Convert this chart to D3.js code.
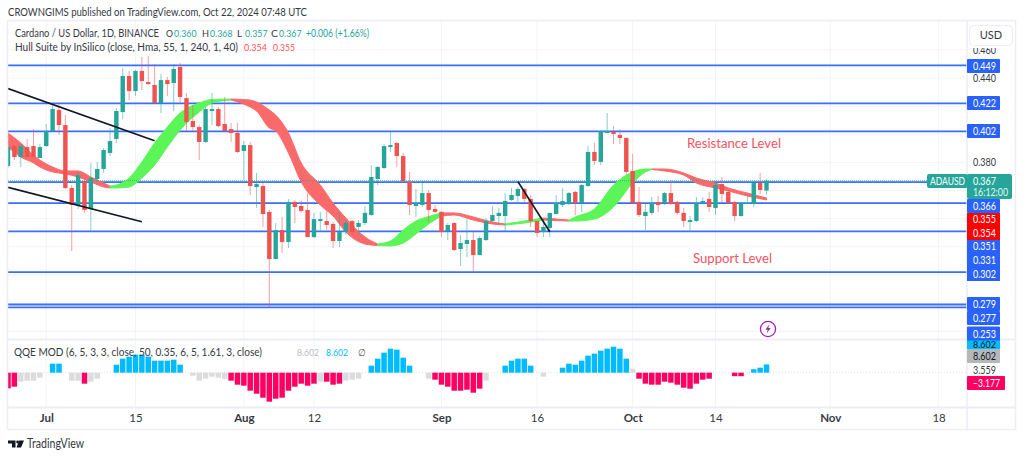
<!DOCTYPE html>
<html><head><meta charset="utf-8">
<script src="https://cdn.jsdelivr.net/npm/d3@7"></script>
<style>html,body{margin:0;padding:0;background:#fff}svg{display:block}text{font-family:Lato,sans-serif}</style>
</head><body><div id="c"></div>
<script>
const opens=[.3774,.3916,.3838,.3909,.3916,.3831,.3916,.4023,.4172,.4065,.3618,.3497,.3668,.3469,.3682,.3753,.3867,.3966,.4158,.4414,.4307,.4450,.4371,.4350,.4222,.4385,.4364,.4478,.4257,.4094,.4051,.3945,.4165,.4179,.4073,.4037,.4009,.3881,.3923,.3625,.3632,.3448,.3113,.3319,.3234,.3519,.3490,.3462,.3269,.3383,.3383,.3362,.3241,.3305,.3383,.3341,.3369,.3426,.3682,.3760,.3909,.3938,.3845,.3661,.3490,.3497,.3582,.3469,.3448,.3312,.3369,.3184,.3220,.3248,.3141,.3248,.3383,.3419,.3419,.3533,.3561,.3611,.3540,.3383,.3305,.3334,.3433,.3497,.3504,.3590,.3511,.3632,.3874,.3803,.4009,.4016,.3995,.3973,.3739,.3519,.3419,.3441,.3519,.3511,.3582,.3519,.3441,.3376,.3383,.3511,.3540,.3476,.3646,.3590,.3519,.3419,.3504,.3504,.3653,.3600];
const highs=[.3923,.3923,.3930,.3966,.4037,.3930,.4073,.4207,.4222,.4136,.3639,.3732,.3689,.3796,.3803,.3902,.4044,.4186,.4471,.4450,.4457,.4549,.4556,.4499,.4428,.4407,.4499,.4506,.4293,.4207,.4065,.4193,.4293,.4193,.4265,.4080,.4080,.3952,.3945,.3725,.3653,.3462,.3369,.3412,.3540,.3533,.3526,.3582,.3441,.3448,.3455,.3376,.3448,.3383,.3390,.3390,.3490,.3781,.3774,.3930,.4023,.3945,.3867,.3732,.3611,.3668,.3604,.3497,.3455,.3369,.3376,.3284,.3397,.3312,.3276,.3404,.3490,.3476,.3582,.3618,.3625,.3618,.3568,.3383,.3404,.3441,.3568,.3618,.3590,.3597,.3646,.3916,.3938,.4030,.4151,.4058,.4037,.3980,.3859,.3625,.3511,.3554,.3561,.3590,.3675,.3526,.3476,.3419,.3554,.3554,.3590,.3661,.3696,.3597,.3526,.3519,.3568,.3653,.3725,.3680];
const lows=[.3760,.3817,.3767,.3831,.3831,.3831,.3909,.4016,.3995,.3611,.3170,.3469,.3441,.3305,.3661,.3725,.3845,.3938,.4108,.4243,.4272,.4314,.4350,.4215,.4151,.4272,.4165,.4222,.4023,.4016,.3817,.3938,.4065,.4051,.4016,.3945,.3867,.3675,.3568,.3476,.3341,.2765,.3113,.3156,.3191,.3369,.3441,.3269,.3262,.3305,.3319,.3191,.3198,.3284,.3284,.3284,.3355,.3419,.3639,.3753,.3874,.3767,.3661,.3426,.3412,.3483,.3376,.3441,.3269,.3248,.3170,.3063,.3127,.3028,.3141,.3241,.3376,.3355,.3312,.3526,.3504,.3519,.3341,.3269,.3269,.3269,.3433,.3483,.3497,.3426,.3448,.3625,.3781,.3781,.4009,.3930,.3930,.3710,.3511,.3412,.3319,.3426,.3448,.3497,.3497,.3426,.3341,.3305,.3376,.3504,.3448,.3426,.3511,.3504,.3383,.3412,.3504,.3483,.3575,.3570];
const closes=[.3909,.3838,.3916,.3838,.3838,.3909,.4023,.4179,.4065,.3618,.3497,.3710,.3462,.3689,.3753,.3888,.3952,.4165,.4414,.4307,.4450,.4378,.4357,.4222,.4385,.4357,.4464,.4265,.4087,.4051,.3945,.4179,.4179,.4058,.4023,.4009,.3874,.3923,.3632,.3646,.3433,.3113,.3319,.3234,.3519,.3483,.3455,.3269,.3397,.3397,.3355,.3241,.3305,.3369,.3305,.3369,.3441,.3696,.3767,.3916,.3923,.3845,.3668,.3497,.3511,.3582,.3462,.3448,.3305,.3355,.3177,.3227,.3248,.3141,.3262,.3383,.3426,.3441,.3526,.3568,.3611,.3540,.3383,.3298,.3341,.3441,.3511,.3526,.3582,.3511,.3639,.3874,.3810,.4023,.4023,.4002,.3973,.3732,.3511,.3426,.3448,.3511,.3497,.3582,.3504,.3441,.3383,.3390,.3511,.3526,.3483,.3639,.3575,.3511,.3419,.3511,.3511,.3653,.3604,.3670];

const hullIndex=[0,2,4,5,7,9,11,13,15,16,17,19,21,23,25,27,30,32,35,38,39,41,42,44,46,49,51,53,56,58,60,62,64,66,68,70,73,76,78,81,84,88,89,92,95,98,100,101,103,106,108,111,113,116,119];
const hullUpper=[.4009,.3938,.3852,.3817,.3767,.3739,.3739,.3696,.3653,.3632,.3639,.3689,.3803,.3938,.4051,.4151,.4222,.4247,.4250,.4243,.4229,.4172,.4136,.4009,.3796,.3639,.3511,.3405,.3270,.3220,.3241,.3319,.3383,.3415,.3441,.3441,.3412,.3376,.3362,.3383,.3405,.3390,.3412,.3469,.3639,.3732,.3753,.3753,.3753,.3725,.3689,.3653,.3618,.3582,.3547];
const hullLower=[.3909,.3838,.3796,.3767,.3732,.3718,.3696,.3661,.3625,.3618,.3618,.3625,.3689,.3781,.3909,.4030,.4158,.4222,.4243,.4193,.4165,.4044,.4023,.3867,.3661,.3497,.3419,.3305,.3220,.3209,.3206,.3227,.3291,.3362,.3419,.3426,.3390,.3362,.3355,.3369,.3390,.3383,.3383,.3397,.3483,.3653,.3732,.3749,.3739,.3710,.3653,.3618,.3597,.3561,.3533];
const hullFlips=[16,35,58,68,78,84,88,101];

const qqeValues=[-6.75,-6.02,-3.87,-3.44,-3.44,-2.15,0,3.87,3.87,0,-3.44,-3.44,-4.73,-3.87,-2.58,0,0,3.44,6.02,6.88,7.74,7.74,6.88,5.16,5.16,5.16,5.59,3.44,0,-1.29,-3.44,-2.58,-1.72,-2.15,-2.58,-3.44,-5.16,-5.59,-7.74,-9.03,-10.75,-12.47,-11.18,-10.75,-7.74,-6.02,-4.73,-5.59,-4.73,-3.87,-3.87,-5.16,-4.73,-3.44,-3.01,-2.58,0,3.01,6.02,8.6,10.32,9.89,6.45,3.01,0,0,-2.58,-3.01,-5.16,-6.02,-7.74,-7.74,-7.31,-8.6,-6.88,-3.44,0,0,3.01,5.16,6.02,6.02,3.01,0,-1.72,0,0,2.15,3.87,3.44,5.16,7.31,8.17,9.46,10.32,11.18,10.32,6.02,1.72,-2.58,-4.73,-5.16,-5.16,-3.87,-4.3,-5.16,-6.45,-6.88,-4.73,-3.01,-2.58,0,0,0,-1.5,-1.5,0,1.5,2.15,3.56];
const qqeGray=[2,3,4,5,10,11,13,14,29,30,31,32,33,34,49,53,54,55,66,75,84,98];

const levels=[.449,.422,.402,.366,.351,.331,.302,.279,.277];
const trendIndex=[[0,23],[0,21],[80,85]];
const trendPrice=[[.4324,.3954],[.3623,.3378],[.3663,.3307]];
const priceTicks=[.46,.44,.42,.40,.38,.36,.34,.32,.30,.28,.26];
const priceLabels=[.46,.44,.38];
const timeTicks=[["2024-07-01","Jul"],["2024-07-15","15"],["2024-08-01","Aug"],["2024-08-12","12"],["2024-09-01","Sep"],["2024-09-16","16"],["2024-10-01","Oct"],["2024-10-14","14"],["2024-11-01","Nov"],["2024-11-18","18"]];
const monthLabels=["Jul","Aug","Sep","Oct","Nov"];
const firstDay=new Date(Date.UTC(2024,5,25));
const dayOf=i=>new Date(firstDay.getTime()+i*864e5);

const FONT='Lato,sans-serif';
const blue="#2962ff",up="#26a69a",down="#ef5350",ink="#363a45",rule="#eceef4",grid="#f3f4f8";
const W=1024,H=458,L=8,R=967,T=21,paneB=339,qT=340,qB=407.5,B=429.5,OUT=1015.5;
const svg=d3.select("#c").append("svg").attr("width",W).attr("height",H);
const x=d3.scaleUtc().domain([firstDay,new Date(Date.UTC(2024,10,18))]).range([8,938.6]);
const y=d3.scaleLinear().domain([.449,.277]).range([65.3,307.3]);
const qy=d3.scaleLinear().domain([14.9,-14.75]).range([338,407]);
const tx=i=>x(dayOf(i));

svg.append("defs").append("clipPath").attr("id","p").append("rect").attr("x",L).attr("y",T).attr("width",R-L).attr("height",paneB-T);
svg.select("defs").append("clipPath").attr("id","q").append("rect").attr("x",L).attr("y",qT).attr("width",R-L).attr("height",qB-qT);

// grid
const timeDates=timeTicks.map(d=>new Date(d[0]+"T00:00:00Z"));
svg.append("g").selectAll("line").data(timeDates).join("line").attr("x1",d=>x(d)).attr("x2",d=>x(d)).attr("y1",T).attr("y2",qB).attr("stroke",grid);
svg.append("g").attr("clip-path","url(#p)").selectAll("line").data(priceTicks).join("line").attr("x1",L).attr("x2",R).attr("y1",d=>y(d)).attr("y2",d=>y(d)).attr("stroke",grid);

// level lines
const main=svg.append("g").attr("clip-path","url(#p)");
main.append("g").selectAll("line").data(levels).join("line").attr("x1",L).attr("x2",R).attr("y1",d=>y(d)).attr("y2",d=>y(d)).attr("stroke",blue).attr("stroke-width",1.8).attr("stroke-opacity",.92);

// hull ribbon
const hull=hullIndex.map((d,i)=>({i:d,u:hullUpper[i],l:hullLower[i]}));
const bounds=[0,...hullFlips,119];
const area=d3.area().x(d=>tx(d.i)).y0(d=>y(d.l)).y1(d=>y(d.u)).curve(d3.curveMonotoneX);
d3.pairs(bounds).forEach(([a,b],k)=>{
  const c=k%2?"#5cf558":"#fb6a6a";
  main.append("path").datum(hull.filter(d=>d.i>=a&&d.i<=b)).attr("d",area)
    .attr("fill",c).attr("stroke",c).attr("stroke-width",1);
});

// candles
const idx=d3.range(opens.length);
const col=i=>closes[i]>=opens[i]?up:down;
main.append("g").selectAll("line").data(idx).join("line").attr("x1",tx).attr("x2",tx).attr("y1",i=>y(highs[i])).attr("y2",i=>y(lows[i])).attr("stroke",col).attr("stroke-opacity",.55).attr("stroke-width",1);
main.append("g").selectAll("rect").data(idx).join("rect").attr("x",i=>tx(i)-2.2).attr("width",4.4)
  .attr("y",i=>y(Math.max(opens[i],closes[i]))).attr("height",i=>Math.max(1,Math.abs(y(opens[i])-y(closes[i])))).attr("fill",col);

// last price dotted
main.append("line").attr("x1",L).attr("x2",R).attr("y1",y(.367)).attr("y2",y(.367)).attr("stroke",up).attr("stroke-opacity",.8).attr("stroke-dasharray","1 1");

// trend lines
main.append("g").selectAll("line").data(trendIndex).join("line")
 .attr("x1",d=>tx(d[0])).attr("x2",d=>tx(d[1]))
 .attr("y1",(d,i)=>y(trendPrice[i][0])).attr("y2",(d,i)=>y(trendPrice[i][1]))
 .attr("stroke","#131722").attr("stroke-width",1.7);

// annotations
svg.append("text").attr("x",687).attr("y",147.5).attr("fill","#f7525f").attr("font-size",13.5).attr("textLength",94).text("Resistance Level");
svg.append("text").attr("x",693).attr("y",263).attr("fill","#f7525f").attr("font-size",13.5).attr("textLength",79).text("Support Level");

// bolt marker
const m=svg.append("g").attr("transform","translate(768,329)");
m.append("circle").attr("r",7.6).attr("fill","#fff").attr("stroke","#9c27b0").attr("stroke-width",1.3);
m.append("path").attr("d","M1.2 -4.5 L-2.6 0.8 L-0.3 0.8 L-1.2 4.5 L2.6 -1 L0.3 -1 Z").attr("fill","#9c27b0");

// QQE
const qg=svg.append("g").attr("clip-path","url(#q)");
qg.append("line").attr("x1",L).attr("x2",R).attr("y1",qy(0)).attr("y2",qy(0)).attr("stroke","#dfe1e8").attr("stroke-dasharray","1 2");
const qIdx=idx.filter(i=>qqeValues[i]!==0);
qg.append("g").selectAll("rect").data(qIdx).join("rect").attr("x",i=>tx(i)-2.75).attr("width",5.5)
  .attr("y",i=>Math.min(qy(qqeValues[i]),qy(0))).attr("height",i=>Math.abs(qy(qqeValues[i])-qy(0)))
  .attr("fill",i=>qqeGray.includes(i)?"#dcdcdf":(qqeValues[i]>0?"#00bcff":"#ff0062"));

// frame
const frame=svg.append("g").attr("fill","none").attr("stroke",rule);
frame.append("rect").attr("x",L-.5).attr("y",T-.5).attr("width",OUT-L+.5).attr("height",B-T+.5).attr("stroke-width",1.5);
frame.append("line").attr("x1",R).attr("x2",R).attr("y1",T).attr("y2",B).attr("stroke-width",1.5);
frame.append("line").attr("x1",L).attr("x2",OUT).attr("y1",339.5).attr("y2",339.5).attr("stroke-width",2);
frame.append("line").attr("x1",L).attr("x2",OUT).attr("y1",qB).attr("y2",qB).attr("stroke-width",2);

// time axis
const timeAxis=d3.axisBottom(x).tickValues(timeDates).tickSize(0).tickPadding(0).tickFormat((d,i)=>timeTicks[i][1]);
const tg=svg.append("g").attr("transform",`translate(0,${qB+6})`).call(timeAxis);
tg.select(".domain").remove();
tg.selectAll("text").attr("fill",ink).attr("font-size",11.5).attr("font-weight",function(){return monthLabels.includes(this.textContent)?700:400}).attr("font-family",FONT);

// price axis labels
const pa=d3.axisRight(y).tickValues(priceLabels).tickSize(0).tickPadding(6).tickFormat(d3.format(".3f"));
const pg=svg.append("g").attr("transform",`translate(${R},0)`).call(pa);
pg.select(".domain").remove();
pg.selectAll("text").attr("fill",ink).attr("font-size",11).attr("font-family",FONT).attr("textLength",23);

// tags
const TW=23;
const tags=svg.append("g");
const tagLabel=(t,yp,c)=>tags.append("text").attr("x",R+6).attr("y",yp).attr("fill",c).attr("font-size",11).attr("textLength",TW).text(t);
// qqe tags
tags.append("rect").attr("x",R).attr("y",340).attr("width",33).attr("height",9).attr("fill","#00bcff");
tags.append("text").attr("x",R+6).attr("y",347.5).attr("fill","#131722").attr("font-size",9.5).attr("textLength",TW).text("8.602");
tags.append("rect").attr("x",R).attr("y",349).attr("width",33).attr("height",14).attr("rx",1).attr("fill","#b6b7bb");
tagLabel("8.602",360,"#131722");
tagLabel("3.559",374,ink);
tags.append("rect").attr("x",R).attr("y",376).attr("width",38).attr("height",14).attr("rx",1).attr("fill","#ff0062");
tags.append("text").attr("x",R+6).attr("y",387).attr("fill","#fff").attr("font-size",11).attr("textLength",27).text("\u22123.177");
// blue price tags
const tagTexts=["0.449","0.422","0.402","0.366","0.351","0.331","0.302","0.279","0.277","0.253"];
const tagCenters=[66,103,131,206,246,260,274,304,318,333.5];
tags.append("rect").attr("x",R).attr("y",239).attr("width",33).attr("height",42).attr("fill",blue);
tagTexts.forEach((t,i)=>{
  tags.append("rect").attr("x",R).attr("y",tagCenters[i]-7).attr("width",33).attr("height",14).attr("rx",1).attr("fill",blue);
  tagLabel(t,tagCenters[i]+4,"#fff");
});
tags.append("rect").attr("x",R).attr("y",213).attr("width",33).attr("height",27).attr("fill","#ff0000");
[["0.355",223],["0.354",237]].forEach(d=>tagLabel(d[0],d[1],"#fff"));
// last price
tags.append("rect").attr("x",927).attr("y",174).attr("width",41).attr("height",14).attr("rx",2).attr("fill",up);
tags.append("text").attr("x",930).attr("y",185).attr("fill","#fff").attr("font-size",10.5).attr("textLength",35).text("ADAUSD");
tags.append("rect").attr("x",R).attr("y",174).attr("width",45).attr("height",25).attr("rx",2).attr("fill",up);
tagLabel("0.367",185,"#fff");
tags.append("text").attr("x",R+6).attr("y",196).attr("fill","#e5f4f2").attr("font-size",10.5).attr("textLength",35).text("16:12:00");

// USD button
svg.append("rect").attr("x",968).attr("y",22).attr("width",47).attr("height",26).attr("fill","#fff");
svg.append("rect").attr("x",969.5).attr("y",25.5).attr("width",43).attr("height",20).attr("rx",4).attr("fill","#fff").attr("stroke",rule);
svg.append("text").attr("x",991).attr("y",39).attr("text-anchor","middle").attr("fill",ink).attr("font-size",11).text("USD");

// header + legends
const legend=svg.append("g");
const put=(xp,yp,t,c,len,fs)=>legend.append("text").attr("x",xp).attr("y",yp).attr("fill",c||ink).attr("font-size",fs||11).attr("textLength",len).text(t);
put(8,15.5,"CROWNGIMS published on TradingView.com, Oct 22, 2024 07:48 UTC","#363a45",299,11.3);
put(15,37,"Cardano / US Dollar, 1D, BINANCE",ink,144);
[["O",166,"0.360"],["H",202,"0.368"],["L",237,"0.357"],["C",271,"0.367"]].forEach(d=>{
  put(d[1],37,d[0],ink,d[0]==="L"?5:7,10); put(d[1]+8,37,d[2],up,22.5,10);
});
put(306,37,"+0.006 (+1.66%)",up,63,10.5);
put(15,51,"Hull Suite by InSilico (close, Hma, 55, 1, 240, 1, 40)",ink,223,10.8);
put(244,51,"0.354","#ff5252",23,10); put(273,51,"0.355","#ff5252",22,10);
put(14,356,"QQE MOD (6, 5, 3, 3, close, 50, 0.35, 6, 5, 1.61, 3, close)",ink,248,10.8);
put(297,356,"8.602","#b8bac2",22,10); put(326,356,"8.602","#00bcff",22,10); put(358,356,"\u2205","#555",8,10);

// logo
svg.append("path").attr("d","M8 440.5 H15.5 V447.5 H12 V443.5 H8 Z M16.5 447.5 L19.2 440.5 H24 L21 447.5 Z").attr("fill","#131722");
svg.append("circle").attr("cx",17.6).attr("cy",442).attr("r",1.4).attr("fill","#131722");
svg.append("text").attr("x",27).attr("y",448).attr("fill","#363a45").attr("font-size",12.5).attr("textLength",57).text("TradingView");

svg.selectAll("text[textLength]").attr("lengthAdjust","spacingAndGlyphs");
</script></body></html>
